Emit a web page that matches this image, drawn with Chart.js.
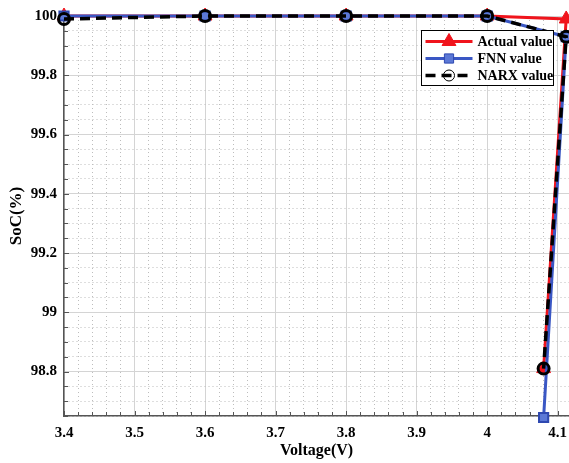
<!DOCTYPE html>
<html>
<head>
<meta charset="utf-8">
<title>SoC vs Voltage</title>
<script src="https://cdn.jsdelivr.net/npm/chart.js@4/dist/chart.umd.min.js"></script>
<style>
  html, body { margin: 0; padding: 0; background: #ffffff; overflow: hidden; }
  canvas { display: block; }
</style>
</head>
<body>
<canvas id="soc" width="569" height="463"></canvas>
<script>
// Measured points (voltage in V, state of charge in %)
const actualVoltage = [3.4, 3.6, 3.8, 4.0, 4.112, 4.08];
const actualSoC     = [100, 100, 100, 100, 99.99, 98.81];

const fnnVoltage = [3.4, 3.6, 3.8, 4.0, 4.112, 4.08];
const fnnSoC     = [100, 100, 100, 100, 99.93, 98.645];

const narxVoltage = [3.4, 3.6, 3.8, 4.0, 4.112, 4.08];
const narxSoC     = [99.99, 100, 100, 100, 99.93, 98.81];

const seriesNames = ['Actual value', 'FNN value', 'NARX value'];

// Labelled axis ticks
const xTickValues = [3.4, 3.5, 3.6, 3.7, 3.8, 3.9, 4.0, 4.1];
const xTickLabels = ['3.4', '3.5', '3.6', '3.7', '3.8', '3.9', '4', '4.1'];
const yTickValues = [98.8, 99.0, 99.2, 99.4, 99.6, 99.8, 100];
const yTickLabels = ['98.8', '99', '99.2', '99.4', '99.6', '99.8', '100'];

const X_MIN = 3.4, X_MAX = 4.116, X_MINOR = 0.02;
const Y_MIN = 98.65, Y_MAX = 100, Y_MINOR = 0.05;

const SERIF = "'Liberation Serif', 'Times New Roman', serif";

function pairs(xs, ys) { return xs.map((x, i) => ({ x: x, y: ys[i] })); }

function majorIndex(values, v) {
  for (let i = 0; i < values.length; i++) {
    if (Math.abs(values[i] - v) < 1e-6) return i;
  }
  return -1;
}

function minorTicks(min, max, step) {
  const out = [];
  const n = Math.floor((max - min) / step + 1e-6);
  for (let i = 0; i <= n; i++) out.push({ value: +(min + i * step).toFixed(6) });
  return out;
}

function gridColor(values) {
  return ctx => (ctx.tick && majorIndex(values, ctx.tick.value) >= 0) ? '#d4d4d4' : '#bdbdbd';
}
function gridDash(values) {
  return ctx => (!ctx.tick || majorIndex(values, ctx.tick.value) >= 0) ? [] : [1, 3];
}

// Short tick marks pointing into the plot area
const innerTicks = {
  id: 'innerTicks',
  beforeDatasetsDraw(chart) {
    const { ctx, chartArea, scales } = chart;
    ctx.save();
    ctx.strokeStyle = '#555555';
    ctx.lineWidth = 1;
    ctx.beginPath();
    scales.x.ticks.forEach(t => {
      const px = Math.round(scales.x.getPixelForValue(t.value)) + 0.5;
      const len = majorIndex(xTickValues, t.value) >= 0 ? 5 : 4;
      ctx.moveTo(px, chartArea.bottom);
      ctx.lineTo(px, chartArea.bottom - len);
    });
    scales.y.ticks.forEach(t => {
      const py = Math.round(scales.y.getPixelForValue(t.value)) + 0.5;
      const len = majorIndex(yTickValues, t.value) >= 0 ? 5 : 4;
      ctx.moveTo(chartArea.left, py);
      ctx.lineTo(chartArea.left + len, py);
    });
    ctx.stroke();
    ctx.restore();
  }
};

// Boxed legend in the upper right of the plot, line sample with marker
const boxLegend = {
  id: 'boxLegend',
  afterDraw(chart) {
    const { ctx, chartArea } = chart;
    const boxW = 132, boxH = 55;
    const bx = chartArea.right - 147.5, by = chartArea.top + 14.5;
    ctx.save();
    ctx.fillStyle = '#ffffff';
    ctx.fillRect(bx, by, boxW, boxH);
    ctx.strokeStyle = '#000000';
    ctx.lineWidth = 1;
    ctx.strokeRect(bx, by, boxW, boxH);
    chart.data.datasets.forEach((ds, i) => {
      const y = by + 11 + i * 17;
      const x0 = bx + 4, x1 = bx + 51, xm = (x0 + x1) / 2;
      ctx.save();
      ctx.strokeStyle = ds.borderColor;
      ctx.lineWidth = ds.borderWidth;
      ctx.setLineDash(ds.borderDash || []);
      ctx.beginPath();
      ctx.moveTo(x0, y);
      ctx.lineTo(x1, y);
      ctx.stroke();
      ctx.restore();
      ctx.save();
      ctx.fillStyle = ds.pointBackgroundColor;
      ctx.strokeStyle = ds.pointBorderColor;
      Chart.helpers.drawPoint(ctx, {
        pointStyle: ds.pointStyle,
        radius: ds.pointRadius,
        rotation: 0,
        borderWidth: ds.pointBorderWidth
      }, xm, y);
      ctx.restore();
      ctx.fillStyle = '#000000';
      ctx.font = 'bold 14px ' + SERIF;
      ctx.textBaseline = 'middle';
      ctx.textAlign = 'left';
      ctx.fillText(ds.label, x1 + 5, y + 1);
    });
    ctx.restore();
  }
};

new Chart(document.getElementById('soc'), {
  type: 'line',
  data: {
    datasets: [
      {
        label: seriesNames[0],
        data: pairs(actualVoltage, actualSoC),
        borderColor: '#f0141c',
        borderWidth: 3,
        pointStyle: 'triangle',
        pointRadius: 8,
        pointBackgroundColor: '#f0141c',
        pointBorderColor: '#f0141c',
        pointBorderWidth: 1,
        order: 3,
        clip: false
      },
      {
        label: seriesNames[1],
        data: pairs(fnnVoltage, fnnSoC),
        borderColor: '#3a57c4',
        borderWidth: 3,
        pointStyle: 'rect',
        pointRadius: 6.5,
        pointBackgroundColor: '#5b78d6',
        pointBorderColor: '#2e48b0',
        pointBorderWidth: 2,
        order: 2,
        clip: false
      },
      {
        label: seriesNames[2],
        data: pairs(narxVoltage, narxSoC),
        borderColor: '#000000',
        borderWidth: 3.5,
        borderDash: [10, 6],
        pointStyle: 'circle',
        pointRadius: 5.5,
        pointBackgroundColor: 'rgba(0,0,0,0)',
        pointBorderColor: '#000000',
        pointBorderWidth: 3,
        order: 1,
        clip: false
      }
    ]
  },
  options: {
    responsive: false,
    animation: false,
    devicePixelRatio: 1,
    layout: { autoPadding: false, padding: { top: 16, right: 0, left: 0, bottom: 0 } },
    elements: { line: { tension: 0 } },
    plugins: {
      legend: { display: false },
      tooltip: { enabled: false }
    },
    scales: {
      x: {
        type: 'linear',
        min: X_MIN,
        max: X_MAX,
        afterBuildTicks: s => { s.ticks = minorTicks(X_MIN, X_MAX, X_MINOR); },
        afterFit: s => { s.height = 47; s.paddingLeft = 0; s.paddingRight = 0; },
        ticks: {
          autoSkip: false,
          maxRotation: 0,
          padding: 8,
          color: '#000000',
          font: { family: SERIF, size: 15, weight: 'bold', lineHeight: 1.2 },
          callback: v => {
            const i = majorIndex(xTickValues, v);
            return i >= 0 ? xTickLabels[i] : '';
          }
        },
        grid: {
          drawTicks: false,
          color: gridColor(xTickValues),
          lineWidth: 1
        },
        border: { display: true, color: '#555555', width: 1.5, dash: gridDash(xTickValues) },
        title: {
          display: true,
          text: 'Voltage(V)',
          color: '#000000',
          font: { family: SERIF, size: 16, weight: 'bold', lineHeight: 1.2 },
          padding: { top: 0, bottom: 3 }
        }
      },
      y: {
        type: 'linear',
        min: Y_MIN,
        max: Y_MAX,
        afterBuildTicks: s => { s.ticks = minorTicks(Y_MIN, Y_MAX, Y_MINOR); },
        afterFit: s => { s.width = 64; },
        ticks: {
          autoSkip: false,
          padding: 7,
          color: '#000000',
          font: { family: SERIF, size: 15, weight: 'bold', lineHeight: 1.2 },
          callback: v => {
            const i = majorIndex(yTickValues, v);
            return i >= 0 ? yTickLabels[i] : '';
          }
        },
        grid: {
          drawTicks: false,
          color: gridColor(yTickValues),
          lineWidth: 1
        },
        border: { display: true, color: '#555555', width: 1.5, dash: gridDash(yTickValues) },
        title: {
          display: true,
          text: 'SoC(%)',
          color: '#000000',
          font: { family: SERIF, size: 17, weight: 'bold', lineHeight: 1.2 },
          padding: { top: 6, bottom: 0 }
        }
      }
    }
  },
  plugins: [innerTicks, boxLegend]
});
</script>
</body>
</html>
